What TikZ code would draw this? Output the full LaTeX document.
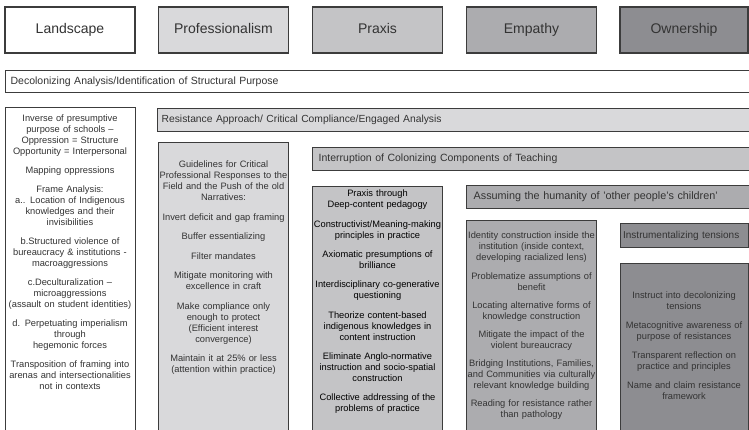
\documentclass[tikz,border=0pt]{standalone}
\usepackage{fontspec}
\setmainfont{Liberation Sans}
\definecolor{linegray}{HTML}{3C3C3C}
\definecolor{profgray}{HTML}{D9D9DB}
\definecolor{praxgray}{HTML}{C4C4C6}
\definecolor{empgray}{HTML}{ACACAF}
\definecolor{owngray}{HTML}{8D8D91}
\definecolor{txtgray}{HTML}{333333}
\tikzset{
	headbox/.style={draw=linegray, line width=1.3pt, minimum width=130pt, minimum height=46pt, inner sep=0pt, text height=10pt, text depth=3pt, font=\fontsize{14}{16}\selectfont, text=txtgray},
	barbox/.style={draw=linegray, line width=1.3pt, anchor=north west, inner xsep=5pt, inner ysep=0pt, minimum height=22pt, align=left, font=\fontsize{10.5}{12}\selectfont, text=txtgray},
	colbox/.style={draw=linegray, line width=1.3pt, anchor=north west, minimum width=130pt, minimum height=330pt, inner sep=0pt},
	coltext/.style={anchor=base, inner sep=0pt, text width=132pt, align=center, font=\fontsize{9.3}{11}\selectfont, text=txtgray}
}
\begin{document}
\begin{tikzpicture}[x=1pt, y=-1pt]
	\useasboundingbox (0,0) rectangle (749,430);
	\clip (0,0) rectangle (749,430);

	\node[headbox, fill=white] (landscape) at (70,30) {Landscape};%Kopfzeile
	\node[headbox, fill=profgray] (professionalism) at (223.5,30) {Professionalism};
	\node[headbox, fill=praxgray] (praxis) at (377.5,30) {Praxis};
	\node[headbox, fill=empgray] (empathy) at (531.5,30) {Empathy};
	\node[headbox, fill=owngray, minimum width=128pt] (ownership) at (684,30) {Ownership};

	\node[barbox, fill=white, text width=785pt] (decol) at (5,70) {Decolonizing Analysis/Identification of Structural Purpose};%Balken
	\node[barbox, fill=profgray, text width=633pt, minimum height=23pt, inner xsep=4pt, font=\fontsize{10.3}{12}\selectfont] (resist) at (157,108) {Resistance Approach/ Critical Compliance/Engaged Analysis};
	\node[barbox, fill=praxgray, text width=476pt, minimum height=23pt, inner xsep=6pt] (interrupt) at (312,147) {Interruption of Colonizing Components of Teaching};
	\node[barbox, fill=empgray, text width=320pt, minimum height=23pt, inner xsep=7pt, font=\fontsize{10.8}{12}\selectfont] (assume) at (466,185) {Assuming the humanity of 'other people's children'};
	\node[barbox, fill=owngray, text width=123pt, minimum height=24pt, inner xsep=2.5pt, font=\fontsize{10}{12}\selectfont] (instrum) at (620,223) {Instrumentalizing tensions};

	\node[colbox, fill=white] (landcol) at (5,107) {};%Spalten
	\node[colbox, fill=profgray] (profcol) at (158,142) {};
	\node[colbox, fill=praxgray] (praxcol) at (312,186) {};
	\node[colbox, fill=empgray] (empcol) at (466,220) {};
	\node[colbox, fill=owngray, minimum width=128pt] (owncol) at (620,263) {};

	\node[coltext] (landtext) at (70,122) {Inverse of presumptive\\purpose of schools –\\Oppression = Structure\\Opportunity = Interpersonal\\[8pt]Mapping oppressions\\[8pt]Frame Analysis:\\a.. Location of Indigenous\\knowledges and their\\invisibilities\\[8pt]b.Structured violence of\\bureaucracy \& institutions -\\macroaggressions\\[8pt]c.Deculturalization –\\microaggressions\\(assault on student identities)\\[8pt]d. Perpetuating imperialism\\through\\hegemonic forces\\[8pt]Transposition of framing into\\arenas and intersectionalities\\not in contexts};
	\node[coltext] (proftext) at (223.5,168) {Guidelines for Critical\\Professional Responses to the\\Field and the Push of the old\\Narratives:\\[8.5pt]Invert deficit and gap framing\\[8.5pt]Buffer essentializing\\[8.5pt]Filter mandates\\[8.5pt]Mitigate monitoring with\\excellence in craft\\[8.5pt]Make compliance only\\enough to protect\\(Efficient interest\\convergence)\\[8.5pt]Maintain it at 25\% or less\\(attention within practice)};
	\node[coltext, text=black] (praxtext) at (377.5,197) {Praxis through\\Deep-content pedagogy\\[8.3pt]Constructivist/Meaning-making\\principles in practice\\[8.3pt]Axiomatic presumptions of\\brilliance\\[8.3pt]Interdisciplinary co-generative\\questioning\\[8.3pt]Theorize content-based\\indigenous knowledges in\\content instruction\\[8.3pt]Eliminate Anglo-normative\\instruction and socio-spatial\\construction\\[8.3pt]Collective addressing of the\\problems of practice};
	\node[coltext] (emptext) at (531.5,239) {Identity construction inside the\\institution (inside context,\\developing racialized lens)\\[7.2pt]Problematize assumptions of\\benefit\\[7.2pt]Locating alternative forms of\\knowledge construction\\[7.2pt]Mitigate the impact of the\\violent bureaucracy\\[7.2pt]Bridging Institutions, Families,\\and Communities via culturally\\relevant knowledge building\\[7.2pt]Reading for resistance rather\\than pathology};
	\node[coltext] (owntext) at (684,298) {Instruct into decolonizing\\tensions\\[8pt]Metacognitive awareness of\\purpose of resistances\\[8pt]Transparent reflection on\\practice and principles\\[8pt]Name and claim resistance\\framework};
\end{tikzpicture}
\end{document}
